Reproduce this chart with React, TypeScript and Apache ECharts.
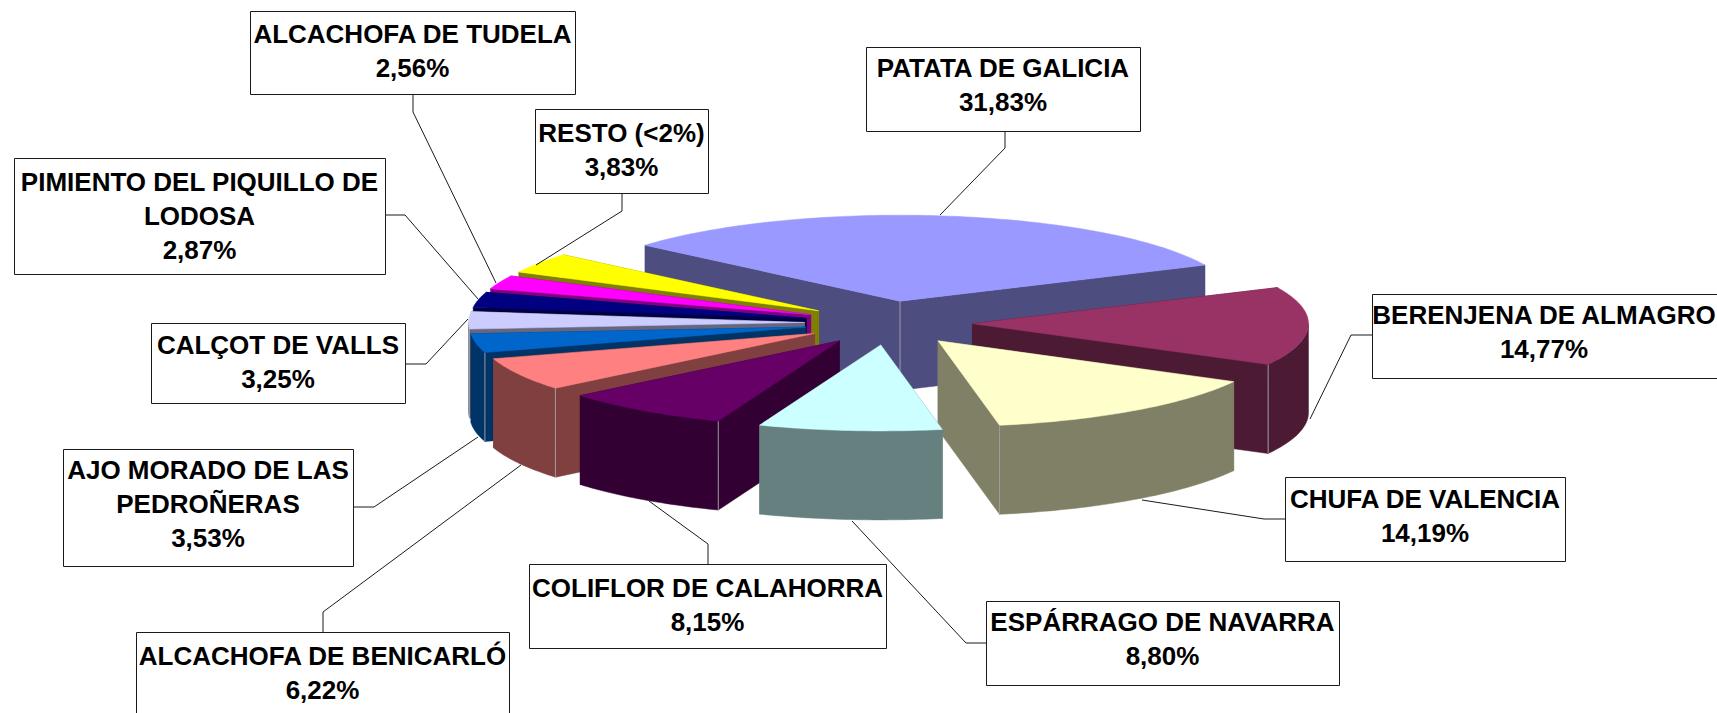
import React, { useEffect, useRef } from "react";
import * as echarts from "echarts";

const names = [
  "PATATA DE GALICIA",
  "BERENJENA DE ALMAGRO",
  "CHUFA DE VALENCIA",
  "ESPÁRRAGO DE NAVARRA",
  "COLIFLOR DE CALAHORRA",
  "ALCACHOFA DE BENICARLÓ",
  "AJO MORADO DE LAS\nPEDROÑERAS",
  "CALÇOT DE VALLS",
  "PIMIENTO DEL PIQUILLO DE\nLODOSA",
  "ALCACHOFA DE TUDELA",
  "RESTO (<2%)",
];
const values = [31.83, 14.77, 14.19, 8.8, 8.15, 6.22, 3.53, 3.25, 2.87, 2.56, 3.83];
const topColors = ["#9999FF", "#993366", "#FFFFCC", "#CCFFFF", "#660066", "#FF8080", "#0066CC", "#CCCCFF", "#000080", "#FF00FF", "#FFFF00"];
const sideColors = ["#4D4D80", "#4D1A33", "#808066", "#668080", "#330033", "#804040", "#003366", "#666680", "#000040", "#800080", "#808000"];
// painter's order, back to front
const drawOrder = [0, 1, 10, 9, 8, 7, 6, 5, 4, 2, 3];

// label boxes: x0, y0, x1, y1
const boxes = [
  [866, 47, 1140, 131],
  [1372, 294, 1730, 378],
  [1285, 477, 1565, 561],
  [986, 601, 1339, 685],
  [529, 564, 886, 648],
  [136, 632, 509, 716],
  [63, 449, 353, 566],
  [151, 323, 405, 403],
  [14, 158, 385, 274],
  [250, 11, 575, 94],
  [535, 109, 708, 193],
];
// vertical placement of each label's text relative to its box centre
const textNudge = [-4, -4, -3.5, -4.5, -1, -1, -3.5, -1, -0.5, -2, -1];
const leaders = [
  [[1005, 131], [1005, 148], [940, 215]],
  [[1372, 335], [1351, 335], [1310, 419]],
  [[1285, 519], [1264, 519], [1142, 500]],
  [[986, 643], [966, 643], [852, 521]],
  [[708, 564], [708, 544], [649, 501]],
  [[323, 632], [323, 612], [521, 465]],
  [[353, 507], [374, 507], [478, 437]],
  [[405, 364], [426, 364], [468, 319]],
  [[385, 215], [405, 215], [478, 299]],
  [[413, 94], [413, 112], [496, 283]],
  [[622, 193], [622, 211], [536, 265]],
];

const CX = 888.5, CY = 323, RX = 336, RY = 86, DEPTH = 89, EXPL_X = 84, EXPL_Y = 22, START_DEG = -49.4;
const rad = (d: number) => (d * Math.PI) / 180;
const total = values.reduce((s, v) => s + v, 0);

function sliceAngles(i: number) {
  let a = START_DEG;
  for (let k = 0; k < i; k++) a += (values[k] / total) * 360;
  return [a, a + (values[i] / total) * 360];
}

function renderSlice(_params: any, api: any) {
  const i = api.value(0) as number;
  const [s, e] = sliceAngles(i);
  const mid = rad((s + e) / 2);
  const ax = CX + EXPL_X * Math.sin(mid);
  const ay = CY - EXPL_Y * Math.cos(mid);
  const rim = (d: number, dz = 0) => [ax + RX * Math.sin(rad(d)), ay - RY * Math.cos(rad(d)) + dz];
  const arc = (from: number, to: number, dz = 0) => {
    const pts: number[][] = [];
    const n = Math.max(1, Math.ceil(to - from));
    for (let k = 0; k <= n; k++) pts.push(rim(from + ((to - from) * k) / n, dz));
    return pts;
  };
  const side = sideColors[i];
  const poly = (points: number[][], fill: string) => ({
    type: "polygon",
    shape: { points },
    style: { fill, stroke: fill, lineWidth: 0.5 },
  });
  const children: any[] = [];
  const cut = (d: number) => {
    const p = rim(d);
    children.push(poly([[ax, ay], p, [p[0], p[1] + DEPTH], [ax, ay + DEPTH]], side));
  };
  cut(s);
  cut(e);
  const wallFrom = Math.max(s, 90);
  const wallTo = Math.min(e, 270);
  if (wallTo > wallFrom) {
    children.push(poly([...arc(wallFrom, wallTo), ...arc(wallFrom, wallTo, DEPTH).reverse()], side));
  }
  const edge = (x: number, y: number) =>
    children.push({
      type: "line",
      shape: { x1: x, y1: y, x2: x, y2: y + DEPTH },
      style: { stroke: "#9C9CA4", lineWidth: 1 },
    });
  if (s < 0 && e > 0) edge(ax, ay);
  if (e > 90 && e < 180) {
    const p = rim(e);
    edge(p[0], p[1]);
  }
  if (s > 180 && s < 270) {
    const p = rim(s);
    edge(p[0], p[1]);
  }
  children.push(poly([[ax, ay], ...arc(s, e)], topColors[i]));
  return { type: "group", children };
}

const fmt = (v: number) => v.toFixed(2).replace(".", ",") + "%";

export default function App() {
  const ref = useRef<HTMLDivElement>(null);
  useEffect(() => {
    document.body.style.margin = "0";
    const chart = echarts.init(ref.current!, undefined, { renderer: "svg" });
    chart.resize();
    const graphics: any[] = [];
    names.forEach((name, i) => {
      const [x0, y0, x1, y1] = boxes[i];
      graphics.push({
        type: "polyline",
        z: 20,
        silent: true,
        shape: { points: leaders[i] },
        style: { fill: "none", stroke: "#1A1A1A", lineWidth: 1 },
      });
      graphics.push({
        type: "rect",
        z: 21,
        silent: true,
        shape: { x: x0 + 0.5, y: y0 + 0.5, width: x1 - x0, height: y1 - y0 },
        style: { fill: "#FFFFFF", stroke: "#1A1A1A", lineWidth: 1 },
      });
      const cx = i === 1 ? 1544 : (x0 + x1) / 2;
      graphics.push({
        type: "text",
        z: 22,
        silent: true,
        x: cx,
        y: (y0 + y1) / 2 + textNudge[i],
        style: {
          text: name + "\n" + fmt(values[i]),
          font: 'bold 26px "Liberation Sans", Arial, sans-serif',
          fill: "#000000",
          align: "center",
          verticalAlign: "middle",
          lineHeight: 34,
        },
      });
    });
    chart.setOption({
      animation: false,
      backgroundColor: "#FFFFFF",
      tooltip: { show: false },
      series: [
        {
          type: "custom",
          coordinateSystem: "none",
          silent: true,
          clip: false,
          renderItem: renderSlice,
          encode: { value: 1 },
          dimensions: ["index", "share"],
          data: drawOrder.map((i) => ({ name: names[i], value: [i, values[i]] })),
          z: 5,
        },
      ],
      graphic: { elements: graphics },
    });
    return () => chart.dispose();
  }, []);
  return <div ref={ref} style={{ width: 1717, height: 713, overflow: "hidden" }} />;
}
